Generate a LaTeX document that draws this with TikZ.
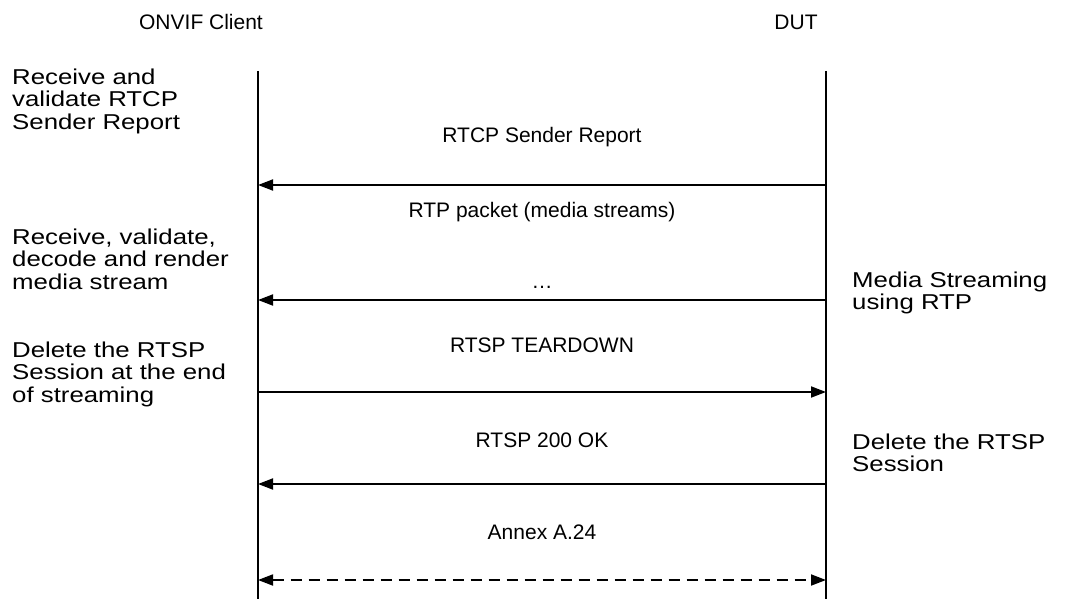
\documentclass[tikz,border=0pt]{standalone}
\usepackage{fontspec}
\setmainfont{Liberation Sans}
\newfontfamily\notefont{Liberation Sans}[FakeStretch=1.2]
\usetikzlibrary{arrows.meta,positioning}

\begin{document}
\begin{tikzpicture}[x=1pt, y=-1pt, >={Triangle[length=15pt,width=11pt]},
        every node/.style={font=\fontsize{21}{22.5}\selectfont, inner sep=0pt},
        lifeline/.style={line width=1.8pt},
        msg/.style={line width=1.8pt},
        reply/.style={line width=1.8pt, dash pattern=on 11pt off 7pt},
        note/.style={align=left, anchor=west, font=\notefont\fontsize{21.5}{22.5}\selectfont},
        label/.style={anchor=center}]

        \useasboundingbox (0,0) rectangle (1089,599);

        % actors
        \node (client) at (201,22) {ONVIF Client};
        \node (dut) at (796,22) {DUT};

        \coordinate (ctop) at (258,71);
        \coordinate (cbot) at (258,599);
        \coordinate (dtop) at (826,71);
        \coordinate (dbot) at (826,599);
        \draw[lifeline] (ctop) -- (cbot);
        \draw[lifeline] (dtop) -- (dbot);

        % message end points
        \foreach \name/\y in {1/185, 2/300, 3/392, 4/484, 5/580} {
            \coordinate (c\name) at (258,\y);
            \coordinate (d\name) at (826,\y);
        }

        % messages
        \node[label] (rtcp) at (542,137) {RTCP Sender Report};
        \node[label] (rtp) at (542,212) {RTP packet (media streams)};
        \node[label] (dots) at (542,287) {\dots};
        \node[label] (teardown) at (542,345) {RTSP TEARDOWN};
        \node[label] (ok) at (542,440) {RTSP 200 OK};
        \node[label] (annex) at (542,532) {Annex A.24};

        \draw[msg, ->] (d1) -- (c1);
        \draw[msg, ->] (d2) -- (c2);
        \draw[msg, ->] (c3) -- (d3);
        \draw[msg, ->] (d4) -- (c4);
        \draw[reply, <->] (c5) -- (d5);

        % client side notes
        \node[note] (recvrtcp) at (12,101) {Receive and\\validate RTCP\\Sender Report};
        \node[note] (recvmedia) at (12,259) {Receive, validate,\\decode and render\\media stream};
        \node[note] (delsess) at (12,374) {Delete the RTSP\\Session at the end\\of streaming};

        % DUT side notes
        \node[note] (streaming) at (852,293) {Media Streaming\\using RTP};
        \node[note] (deldut) at (852,453) {Delete the RTSP\\Session};
    \end{tikzpicture}
\end{document}
